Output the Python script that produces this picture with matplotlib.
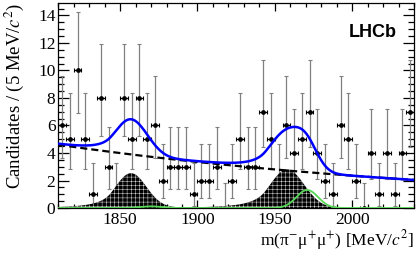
import numpy as np
import matplotlib
matplotlib.use("Agg")
import matplotlib.pyplot as plt
from matplotlib.ticker import MultipleLocator
from math import exp, factorial

# binned data, 5 MeV bins from 1810 to 2040
bin_lo = 1810
bin_width = 5
counts = [6, 5, 10, 5, 1, 8, 3, 1, 8, 5,
          8, 5, 6, 2, 3, 3, 3, 1, 2, 2,
          3, 0, 2, 5, 3, 3, 7, 5, 2, 6,
          4, 5, 7, 4, 2, 1, 6, 5, 2, 0,
          4, 1, 4, 1, 4, 7]

# fit components
bkg_start, bkg_end = 4.6, 2.04          # combinatorial background at 1810 and 2040
misid_mean = [1857.0, 1958.0]           # D -> pi pi pi misid peaks
misid_sigma = [10.0, 11.0]
misid_amp = [2.52, 2.81]
sig_mean = [1870.0, 1971.0]             # D+ and Ds+ signal
sig_sigma = [7.0, 7.0]
sig_amp = [0.12, 1.31]

plt.rcParams['font.family'] = ['Liberation Serif', 'DejaVu Serif']
plt.rcParams['mathtext.fontset'] = 'stix'
plt.rcParams['hatch.linewidth'] = 0.3


def pois_cdf(k, mu):
    return sum(exp(-mu) * mu**j / factorial(j) for j in range(k + 1))


def solve(f, target, lo=0.0, hi=60.0):
    # f decreasing in mu
    for _ in range(80):
        mid = 0.5 * (lo + hi)
        if f(mid) > target:
            lo = mid
        else:
            hi = mid
    return 0.5 * (lo + hi)


def garwood(n, cl=0.6827):
    a = (1 - cl) / 2
    lower = 0.0 if n == 0 else solve(lambda m: pois_cdf(n - 1, m), 1 - a)
    upper = solve(lambda m: pois_cdf(n, m), a)
    return n - lower, upper - n


def crystal_ball(x, mean, sigma, amp, alpha=1.3, n=3.0):
    t = (x - mean) / sigma
    A = (n / alpha)**n * np.exp(-alpha**2 / 2)
    B = n / alpha - alpha
    tail = A * np.maximum(B - t, 1e-9)**(-n)
    return amp * np.where(t > -alpha, np.exp(-t**2 / 2), tail)


def gauss(x, mean, sigma, amp):
    return amp * np.exp(-0.5 * ((x - mean) / sigma)**2)


centers = bin_lo + bin_width * (np.arange(len(counts)) + 0.5)
errs = np.array([garwood(c) for c in counts]).T

x = np.linspace(1810, 2040, 800)
k = np.log(bkg_start / bkg_end) / 230.0
bkg = bkg_start * np.exp(-k * (x - 1810))
misid = sum(crystal_ball(x, m, s, a) for m, s, a in zip(misid_mean, misid_sigma, misid_amp))
sig = sum(gauss(x, m, s, a) for m, s, a in zip(sig_mean, sig_sigma, sig_amp))
total = bkg + misid + sig

fig = plt.figure(figsize=(4.19, 2.61), dpi=100)
ax = fig.add_axes([0.139, 0.203, 0.849, 0.787])

ax.errorbar(centers, counts, yerr=errs, fmt='none', ecolor='#808080',
            elinewidth=0.9, capsize=1.3, capthick=0.8, zorder=2)
ax.errorbar(centers, counts, xerr=bin_width / 2, fmt='o', color='black',
            ms=2.4, elinewidth=0.9, capsize=1.3, capthick=0.8, zorder=2)

ax.fill_between(x, 0, misid, facecolor='black', edgecolor='white',
                hatch='++++', linewidth=0, zorder=3)
ax.plot(x, sig, color='#55d655', lw=1.3, zorder=4)
ax.plot(x, bkg, color='black', lw=1.6, dashes=(3.2, 1.8), zorder=4)
ax.plot(x, total, color='#0000ff', lw=1.8, zorder=5)

ax.set_xlim(1810, 2040)
ax.set_ylim(0, 14.93)
ax.xaxis.set_major_locator(MultipleLocator(50))
ax.xaxis.set_minor_locator(MultipleLocator(10))
ax.yaxis.set_major_locator(MultipleLocator(2))
ax.yaxis.set_minor_locator(MultipleLocator(0.5))
ax.tick_params(which='both', direction='in', top=True, right=True, width=0.9)
ax.tick_params(axis='x', which='major', length=6, pad=3, labelsize=12.5)
ax.tick_params(axis='x', which='minor', length=3)
ax.tick_params(axis='y', which='major', length=8, pad=2, labelsize=12.5)
ax.tick_params(axis='y', which='minor', length=4.3)
for s in ax.spines.values():
    s.set_linewidth(0.9)

ax.set_xlabel('m(π$^{-}$μ$^{+}$μ$^{+}$) [MeV/$c^{2}$]', fontsize=12.5, loc='right', labelpad=0)
ax.set_ylabel('Candidates / (5 MeV/$c^{2}$)', fontsize=13.5, loc='top')
ax.yaxis.set_label_coords(-0.09, 1.0)

ax.text(0.951, 0.834, 'LHCb', transform=ax.transAxes, ha='right', va='baseline',
        fontsize=13, fontweight='bold', family=['Liberation Sans', 'DejaVu Sans'])

fig.savefig('out.png', dpi=100)
